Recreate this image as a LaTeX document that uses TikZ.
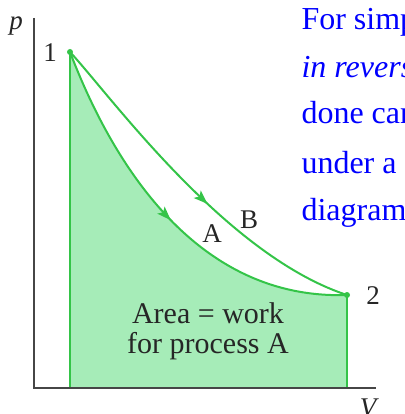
\documentclass[tikz,border=0pt]{standalone}
\usepackage{fontspec}
\setmainfont{Liberation Serif}
\usetikzlibrary{arrows.meta,decorations.markings}
\definecolor{pvline}{RGB}{52,196,72}
\definecolor{pvfill}{RGB}{166,236,184}
\definecolor{axgray}{RGB}{70,70,70}
\definecolor{slideblue}{RGB}{0,0,255}
\tikzset{
  ax/.style={axgray,line width=2pt},
  proc/.style={pvline,line width=2pt,postaction={decorate},
    decoration={markings,mark=at position #1 with {\arrow{Stealth[length=14pt,width=10pt,inset=3pt]}}}},
  side/.style={pvline,line width=1.5pt},
  lbl/.style={font=\fontsize{27}{29}\selectfont,text=black!85},
  slide/.style={font=\fontsize{32}{34}\selectfont,text=slideblue,anchor=base west}
}
\begin{document}
\begin{tikzpicture}[x=1pt,y=-1pt]
\useasboundingbox (0,0) rectangle (404,414);
\clip (0,0) rectangle (404,414);
\coordinate (s1) at (70,52);
\coordinate (s2) at (347,295);
\coordinate (b1) at (70,388);
\coordinate (b2) at (347,388);
\coordinate (o) at (34,388);
\coordinate (ptop) at (34,18);
\coordinate (vend) at (376,388);
\fill[pvfill] (s1) .. controls (115,170) and (200,300) .. (s2) -- (b2) -- (b1) -- cycle;
\draw[side] (s1) -- (b1); \draw[side] (s2) -- (b2);
\draw[ax] (ptop) -- (o) -- (vend);
\draw[proc=0.5] (s1) .. controls (115,170) and (200,300) .. (s2);
\draw[proc=0.55] (s1) .. controls (110,95) and (225,255) .. (s2);
\fill[pvline] (s1) circle (3); \fill[pvline] (s2) circle (3);
\node[lbl] (n1) at (50,53) {1};
\node[lbl] (n2) at (373,296) {2};
\node[lbl] (na) at (212,234) {A};
\node[lbl] (nb) at (249,220) {B};
\node[lbl] (np) at (16,26) {\itshape p};
\node[lbl] (nv) at (368,408) {\itshape V};
\node[lbl,font=\fontsize{30}{30}\selectfont,align=center] (area) at (208,331) {Area = work\\for process A};
\node[slide] (t1) at (298,30) {For simp};
\node[slide] (t2) at (298,78) {\itshape in revers};
\node[slide] (t3) at (298,124) {done can};
\node[slide] (t4) at (298,173) {under a};
\node[slide] (t5) at (298,220) {diagram};
\end{tikzpicture}
\end{document}
